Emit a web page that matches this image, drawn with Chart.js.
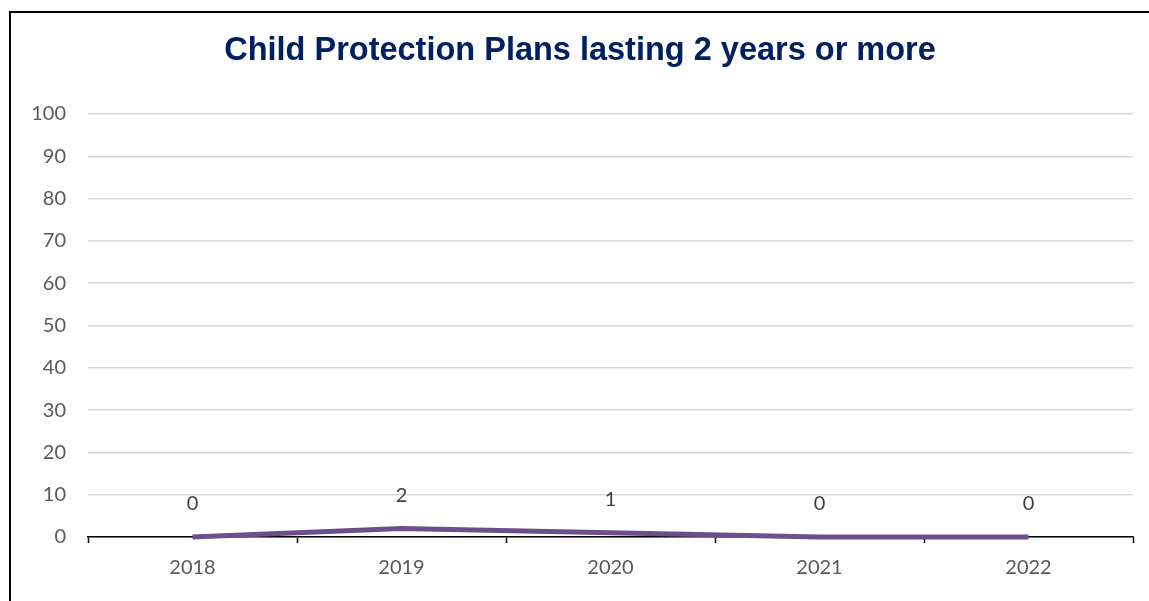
<!DOCTYPE html>
<html>
<head>
<meta charset="utf-8">
<title>Child Protection Plans lasting 2 years or more</title>
<script src="https://cdn.jsdelivr.net/npm/chart.js@4"></script>
<style>
  html, body { margin: 0; padding: 0; background: #fff; }
  #wrap { width: 1149px; height: 601px; position: relative; }
</style>
</head>
<body>
<div id="wrap"><canvas id="mycanvas" width="1149" height="601"></canvas></div>
<script>
var years = ['2018', '2019', '2020', '2021', '2022'];
var plans = [0, 2, 1, 0, 0];
var yTicks = [0, 10, 20, 30, 40, 50, 60, 70, 80, 90, 100];

var labelFont = { family: 'Lato, "Open Sans", sans-serif', size: 20 };

// thin black frame on the left and top edges of the chart box
var frame = {
  id: 'frame',
  beforeDraw: function(chart) {
    var c = chart.ctx;
    c.save();
    c.fillStyle = '#fff';
    c.fillRect(0, 0, chart.width, chart.height);
    c.strokeStyle = '#000';
    c.lineWidth = 2;
    c.beginPath();
    c.moveTo(10, chart.height);
    c.lineTo(10, 12);
    c.lineTo(chart.width, 12);
    c.stroke();
    c.restore();
  }
};

// value labels above each point
var valueLabels = {
  id: 'valueLabels',
  afterDatasetsDraw: function(chart) {
    var c = chart.ctx;
    var meta = chart.getDatasetMeta(0);
    c.save();
    c.font = labelFont.size + 'px ' + labelFont.family;
    c.fillStyle = '#404040';
    c.textAlign = 'center';
    c.textBaseline = 'middle';
    meta.data.forEach(function(pt, i) {
      c.fillText(String(plans[i]), pt.x, pt.y - 33);
    });
    c.restore();
  }
};

var ctx = document.getElementById('mycanvas');

var lineChart = new Chart(ctx, {
  type: 'line',
  data: {
    labels: years,
    datasets: [{
      label: 'Plans',
      data: plans,
      borderColor: '#6a4f8c',
      backgroundColor: '#6a4f8c',
      borderWidth: 5,
      pointRadius: 0,
      tension: 0,
      clip: false
    }]
  },
  options: {
    responsive: false,
    animation: false,
    layout: { padding: { left: 27, right: 16, top: 0, bottom: 0 } },
    plugins: {
      legend: { display: false },
      tooltip: { enabled: false },
      title: {
        display: true,
        text: 'Child Protection Plans lasting 2 years or more',
        color: '#002060',
        font: { family: '"Liberation Sans", Arial, sans-serif', size: 32.5, weight: 'bold', lineHeight: 1.2 },
        padding: { top: 32, bottom: 43 }
      }
    },
    scales: {
      x: {
        offset: true,
        grid: {
          offset: true,
          drawOnChartArea: false,
          drawTicks: true,
          tickLength: 6,
          tickColor: '#000',
          tickWidth: 1.5
        },
        border: { display: true, color: '#000', width: 1.5 },
        ticks: {
          color: '#595959',
          font: labelFont,
          padding: 13
        },
        afterFit: function(scale) { scale.height = 64; }
      },
      y: {
        min: 0,
        max: 100,
        afterBuildTicks: function(scale) {
          scale.ticks = yTicks.map(function(v) { return { value: v }; });
        },
        grid: { color: '#d9d9d9', lineWidth: 1.5, drawTicks: false },
        border: { display: false },
        ticks: {
          color: '#595959',
          font: labelFont,
          padding: 22
        },
        afterFit: function(scale) { scale.width = 61; }
      }
    }
  },
  plugins: [frame, valueLabels]
});
</script>
</body>
</html>
